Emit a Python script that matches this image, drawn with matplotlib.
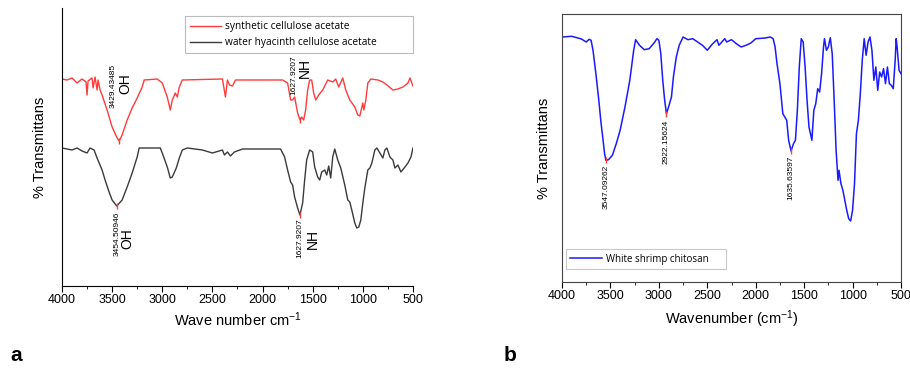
import numpy as np
import matplotlib
matplotlib.use("Agg")
import matplotlib.pyplot as plt
from matplotlib.ticker import MultipleLocator

plt.rcParams['font.family'] = ['Liberation Sans', 'DejaVu Sans']
plt.rcParams['mathtext.default'] = 'regular'

# (a) cellulose acetate spectra, wavenumber (cm-1) and relative transmittance
wn_syn = [4000, 3950, 3900, 3850, 3800, 3760, 3750, 3740, 3700, 3690, 3670, 3650, 3640,
          3620, 3600, 3550, 3500, 3450, 3429, 3400, 3350, 3300, 3250, 3200, 3180, 3050,
          3000, 2950, 2920, 2900, 2870, 2850, 2830, 2800, 2400, 2370, 2350, 2330, 2300,
          2270, 1800, 1750, 1720, 1700, 1680, 1650, 1627, 1610, 1590, 1570, 1550, 1530,
          1510, 1490, 1470, 1440, 1400, 1350, 1300, 1270, 1240, 1200, 1170, 1130, 1080,
          1050, 1030, 1000, 990, 970, 950, 920, 850, 800, 760, 700, 650, 600, 550, 530, 500]
t_syn = [207, 206, 208, 203, 207, 204, 191, 205, 208, 198, 209, 196, 206,
         196, 191, 176, 159, 148, 145, 151, 166, 178, 188, 199, 206, 207,
         203, 189, 176, 186, 193, 189, 199, 206, 207, 189, 206, 201, 200,
         206, 206, 203, 186, 186, 189, 173, 166, 169, 166, 176, 196, 206,
         206, 193, 186, 191, 196, 206, 204, 207, 199, 208, 196, 186, 179,
         171, 170, 183, 176, 186, 203, 207, 206, 204, 201, 196, 197, 199, 203, 208, 200]

wn_wh = [4000, 3900, 3850, 3800, 3750, 3720, 3680, 3650, 3600, 3570, 3530, 3500, 3454,
         3400, 3350, 3300, 3250, 3230, 3020, 3000, 2950, 2920, 2900, 2860, 2830, 2800,
         2750, 2600, 2500, 2400, 2380, 2350, 2320, 2280, 2200, 1820, 1780, 1750, 1720,
         1700, 1680, 1650, 1627, 1600, 1580, 1560, 1530, 1500, 1480, 1450, 1430, 1410,
         1380, 1360, 1340, 1320, 1300, 1280, 1250, 1220, 1180, 1150, 1130, 1110, 1080,
         1060, 1040, 1020, 1000, 980, 950, 930, 910, 880, 860, 830, 800, 780, 760, 730,
         700, 680, 650, 620, 580, 550, 520, 500]
t_wh = [138, 136, 138, 135, 133, 138, 136, 128, 116, 106, 94, 86, 80,
        86, 99, 113, 129, 138, 138, 133, 119, 108, 109, 118, 128, 136,
        138, 136, 133, 136, 131, 134, 130, 134, 137, 137, 129, 116, 104,
        101, 89, 78, 71, 83, 106, 126, 136, 134, 119, 109, 106, 114,
        116, 111, 120, 108, 129, 137, 126, 118, 101, 86, 84, 76, 63,
        58, 59, 66, 83, 98, 116, 118, 123, 136, 138, 133, 128, 136, 138, 129,
        126, 118, 121, 114, 119, 123, 129, 138]

# (b) white shrimp chitosan
wn_chi = [4000, 3900, 3800, 3750, 3720, 3700, 3680, 3650, 3620, 3600, 3580, 3560, 3547,
          3520, 3480, 3440, 3400, 3350, 3300, 3260, 3240, 3200, 3150, 3100, 3050, 3020,
          3000, 2980, 2960, 2940, 2922, 2900, 2870, 2850, 2820, 2790, 2750, 2700, 2650,
          2600, 2550, 2500, 2450, 2400, 2380, 2350, 2320, 2300, 2250, 2200, 2150, 2100,
          2050, 2000, 1900, 1850, 1820, 1800, 1780, 1750, 1720, 1700, 1680, 1660, 1635,
          1610, 1590, 1570, 1550, 1530, 1510, 1490, 1470, 1450, 1420, 1400, 1380, 1360,
          1340, 1320, 1300, 1290, 1270, 1250, 1230, 1210, 1190, 1170, 1150, 1140, 1120,
          1100, 1080, 1060, 1040, 1020, 1000, 980, 960, 940, 920, 900, 880, 860, 840,
          820, 800, 780, 760, 740, 720, 700, 680, 660, 640, 620, 600, 580, 560, 550,
          540, 520, 500]
t_chi = [245, 245.7, 243, 240, 242.7, 241.7, 231.7, 208, 181.7, 161.7, 145, 128, 121.7,
         122.3, 126.7, 138.3, 151.7, 175, 201.7, 231.7, 242.3, 236.7, 232.3, 233.3, 239, 243.3,
         241.7, 228.3, 201.7, 181.7, 168.3, 175, 185, 205, 225, 236.7, 245, 242.3, 243.3,
         240, 236.7, 231.7, 237.7, 242.3, 236.7, 240, 243.3, 240, 242.3, 238.3, 235, 236.7,
         239, 243.3, 244, 245, 243.3, 235, 218.3, 198.3, 168.3, 165, 161.7, 141.7, 131,
         138.3, 141.7, 171.7, 215, 243.3, 240, 215, 181.7, 155, 141.7, 171.7, 178.3, 193.3,
         190, 208.3, 235, 243.3, 231.7, 235, 244.3, 228.3, 181.7, 131.7, 101.7, 111.7, 98.3,
         91.7, 81.7, 71.7, 63.3, 61, 71.7, 98.3, 148.3, 161.7, 188.3, 221.7, 243.3, 226.7, 240,
         245, 231.7, 201.7, 215, 191.7, 210, 205, 213.3, 198.3, 215, 198.3, 196.7, 193.3, 221.7, 243.3,
         235, 211.7, 208.3]

fig = plt.figure(figsize=(9.1, 3.72), dpi=100)

# ---------------- panel a ----------------
ax1 = fig.add_axes([0.0681, 0.2312, 0.3857, 0.7473])
ax1.plot(wn_syn, t_syn, color='#ff3b3b', lw=1.0, label='synthetic cellulose acetate')
ax1.plot(wn_wh, t_wh, color='#3a3a3a', lw=1.0, label='water hyacinth cellulose acetate')
ax1.set_xlim(4000, 500)
ax1.set_ylim(0, 278)
ax1.spines['top'].set_visible(False)
ax1.spines['right'].set_visible(False)
ax1.set_yticks([])
ax1.xaxis.set_major_locator(MultipleLocator(500))
ax1.xaxis.set_minor_locator(MultipleLocator(250))
ax1.tick_params(axis='x', which='major', length=4, labelsize=9, pad=2)
ax1.tick_params(axis='x', which='minor', length=2.5)
ax1.set_xlabel('Wave number cm$^{-1}$', fontsize=10.5, labelpad=3)
ax1.set_ylabel('% Transmittans', fontsize=10.5, labelpad=11)

# peak marks and labels
ax1.plot([3429, 1627], [145, 166], ls='none', marker='|', ms=4, color='#ff3b3b')
ax1.plot([3454, 1627], [80, 71], ls='none', marker='|', ms=4, color='#ff3b3b')
ax1.text(3490, 178, '3429.43485', rotation=90, fontsize=6, ha='center', va='bottom')
ax1.text(3372, 202, 'OH', rotation=90, fontsize=10, ha='center', va='center')
ax1.text(1687, 191, '1627.9207', rotation=90, fontsize=6, ha='center', va='bottom')
ax1.text(1577, 218, 'NH', rotation=90, fontsize=10, ha='center', va='center')
ax1.text(3452, 74, '3454.50946', rotation=90, fontsize=6, ha='center', va='top')
ax1.text(3347, 47, 'OH', rotation=90, fontsize=10, ha='center', va='center')
ax1.text(1627, 68, '1627.9207', rotation=90, fontsize=6, ha='center', va='top')
ax1.text(1498, 47, 'NH', rotation=90, fontsize=10, ha='center', va='center')

leg1 = ax1.legend(loc='upper left', bbox_to_anchor=(0.35, 0.0, 0.65, 0.971), mode='expand',
                  frameon=True, fancybox=False, edgecolor='#aaaaaa', handlelength=3.1,
                  handletextpad=0.4, borderpad=0.5, labelspacing=0.5, borderaxespad=0,
                  prop={'family': 'Open Sans', 'size': 7.3})
leg1.get_frame().set_linewidth(0.8)

# ---------------- panel b ----------------
ax2 = fig.add_axes([0.6176, 0.2419, 0.3725, 0.7205])
ax2.plot(wn_chi, t_chi, color='#1a1aff', lw=1.1, label='White shrimp chitosan')
ax2.set_xlim(4000, 500)
ax2.set_ylim(0, 268)
ax2.set_yticks([])
for s in ax2.spines.values():
    s.set_color('#444444')
ax2.xaxis.set_major_locator(MultipleLocator(500))
ax2.xaxis.set_minor_locator(MultipleLocator(250))
ax2.tick_params(axis='x', which='major', length=4, labelsize=9, pad=2)
ax2.tick_params(axis='x', which='minor', length=2.5)
ax2.set_xlabel('Wavenumber (cm$^{-1}$)', fontsize=10.5, labelpad=4)
ax2.set_ylabel('% Transmittans', fontsize=10.5, labelpad=8)

ax2.plot([3547, 2922, 1635], [121.7, 168.3, 131], ls='none', marker='|', ms=4, color='#ff3b3b')
ax2.text(3547, 117, '3547.09262', rotation=90, fontsize=6, ha='center', va='top')
ax2.text(2922, 162, '2922.15624', rotation=90, fontsize=6, ha='center', va='top')
ax2.text(1635, 126, '1635.63597', rotation=90, fontsize=6, ha='center', va='top')

leg2 = ax2.legend(loc='lower left', bbox_to_anchor=(0.012, 0.0485, 0.472, 0.2), mode='expand',
                  frameon=True, fancybox=False, edgecolor='#bbbbbb', handlelength=3.2,
                  handletextpad=0.5, borderpad=0.45, borderaxespad=0,
                  prop={'family': 'Open Sans', 'size': 7})
leg2.get_frame().set_linewidth(0.8)

fig.text(0.011, 0.03, 'a', fontsize=15, fontweight='bold', ha='left', va='baseline')
fig.text(0.553, 0.03, 'b', fontsize=15, fontweight='bold', ha='left', va='baseline')

fig.savefig('out.png', dpi=100)
